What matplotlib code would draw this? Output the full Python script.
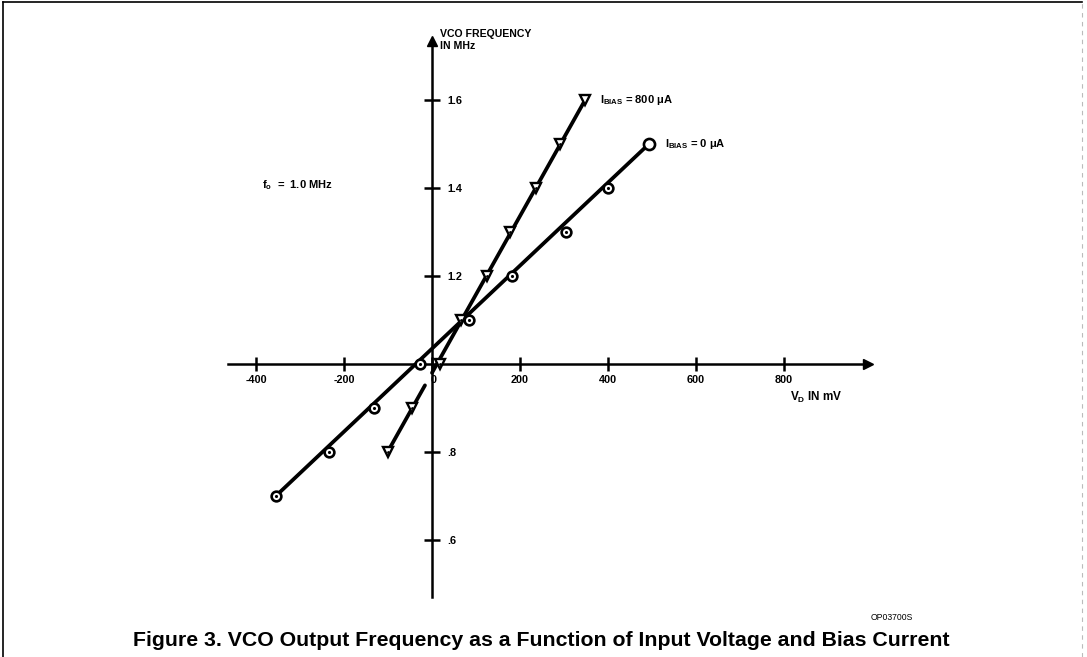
import numpy as np
import matplotlib
matplotlib.use("Agg")
import matplotlib.pyplot as plt
import matplotlib.transforms as mtransforms
from matplotlib.lines import Line2D

plt.rcParams['font.family'] = ['Liberation Sans', 'DejaVu Sans']
plt.rcParams['font.weight'] = 'bold'
plt.rcParams['mathtext.fontset'] = 'custom'
plt.rcParams['mathtext.rm'] = 'Liberation Sans:bold'
plt.rcParams['mathtext.it'] = 'Liberation Sans:bold'
plt.rcParams['mathtext.bf'] = 'Liberation Sans:bold'

# ---- data ----
bias0_vd = [-355, -234, -132, -27, 83, 181, 305, 401, 493]
bias0_f = [0.70, 0.80, 0.90, 1.00, 1.10, 1.20, 1.30, 1.40, 1.50]
bias800_vd = [-101, -46, 18, 65, 124, 177, 236, 291, 348]
bias800_f = [0.80, 0.90, 1.00, 1.10, 1.20, 1.30, 1.40, 1.50, 1.60]

x_ticks = [-400, -200, 0, 200, 400, 600, 800]
x_ticklabels = ['-400', '-200', '0', '200', '400', '600', '800']
y_ticks = [0.6, 0.8, 1.2, 1.4, 1.6]
y_ticklabels = ['.6', '.8', '1.2', '1.4', '1.6']

title = "Figure 3. VCO Output Frequency as a Function of Input Voltage and Bias Current"

W, H = 1087, 657
fig = plt.figure(figsize=(W / 100, H / 100), dpi=100)
ax = fig.add_axes([0, 0, 1, 1])
# pixel mapping: x0 at 432 px, 0.44 px/mV ; f=1.0 at 364 px, 440 px/MHz
ax.set_xlim(-432 / 0.44, (W - 432) / 0.44)
ax.set_ylim(1 - (H - 364) / 440, 1 + 364 / 440)

for s in ['top', 'left']:
    ax.spines[s].set_visible(False)
ax.spines['bottom'].set_position(('data', 1.0))
ax.spines['right'].set_position(('data', 0))
ax.spines['bottom'].set_bounds(-464, 985)
ax.spines['right'].set_bounds(0.47, 1.72)
for s in ['bottom', 'right']:
    ax.spines[s].set_linewidth(1.8)
    ax.spines[s].set_zorder(1)

ax.xaxis.set_ticks_position('bottom')
ax.yaxis.set_ticks_position('right')
ax.set_xticks(x_ticks)
ax.set_xticklabels(x_ticklabels)
ax.set_yticks(y_ticks)
ax.set_yticklabels(y_ticklabels)
ax.tick_params(axis='x', direction='inout', length=10, width=1.8, pad=3, labelsize=7.8)
ax.tick_params(axis='y', direction='inout', length=12, width=1.8, pad=5, labelsize=7.8)

# shift the "0" label slightly right of the vertical axis
for lab in ax.get_xticklabels():
    if lab.get_text() == '0':
        lab.set_transform(lab.get_transform() +
                          mtransforms.ScaledTranslation(2 / 100, 0, fig.dpi_scale_trans))

# arrow heads
ax.plot([992], [1.0], marker='>', ms=7, color='black', clip_on=False, zorder=2)
ax.plot([0], [1.735], marker='^', ms=7, color='black', clip_on=False, zorder=2)

# IBIAS = 0 line
ax.plot([bias0_vd[0], bias0_vd[-1]], [bias0_f[0], bias0_f[-1]], color='black', lw=2.7,
        solid_capstyle='round', zorder=3)
ax.plot(bias0_vd[:-1], bias0_f[:-1], 'o', ms=7, mfc='white', mec='black', mew=1.9, zorder=4)
ax.plot(bias0_vd[:-1], bias0_f[:-1], '.', ms=2.5, color='black', zorder=5)
ax.plot(bias0_vd[-1:], bias0_f[-1:], 'o', ms=8, mfc='white', mec='black', mew=1.9, zorder=4)

# IBIAS = 800 line (with small break near the vertical axis)
x0, x1 = bias800_vd[0], bias800_vd[-1]
y0, y1 = bias800_f[0], bias800_f[-1]
slope = (y1 - y0) / (x1 - x0)
gap_lo, gap_hi = -16, 0
ax.plot([x0, gap_lo], [y0, y0 + slope * (gap_lo - x0)], color='black', lw=2.7,
        solid_capstyle='round', zorder=3)
ax.plot([gap_hi, x1], [y0 + slope * (gap_hi - x0), y1], color='black', lw=2.7,
        solid_capstyle='round', zorder=3)
ax.plot(bias800_vd, bias800_f, 'v', ms=7, mfc='white', mec='black', mew=1.7, zorder=4)
ax.plot(bias800_vd[:-1], bias800_f[:-1], '.', ms=2, color='black', zorder=5)

# texts
ax.text((440 - 432) / 0.44, 1 + (364 - 40) / 440, "VCO FREQUENCY\nIN MHz", fontsize=7.6,
        fontweight='bold', va='center', ha='left', linespacing=1.15)
ax.text((600 - 432) / 0.44, 1.6, r"I$_{\rm BIAS}$ = 800 $\mu$A", fontsize=8,
        va='center', ha='left')
ax.text((665 - 432) / 0.44, 1.5, r"I$_{\rm BIAS}$ = 0 $\mu$A", fontsize=8,
        va='center', ha='left')
ax.text((262 - 432) / 0.44, 1 + (364 - 185) / 440, r"f$_{\rm o}$  =  1.0 MHz", fontsize=8,
        va='center', ha='left')
ax.text((790 - 432) / 0.44, 1 - (397 - 364) / 440, r"V$_{\rm D}$ IN mV", fontsize=8.5,
        va='center', ha='left')

fig.text(892 / W, 1 - 617 / H, "OP03700S", fontsize=6.2, ha='center', va='center',
         fontweight='normal')
fig.text(541 / W, 1 - 640 / H, title, fontsize=15.3, ha='center', va='center',
         fontweight='bold')

# frame
fig.add_artist(Line2D([2.5 / W, 2.5 / W], [0, 1 - 2 / H], color='black', lw=1.2))
fig.add_artist(Line2D([2.5 / W, 1082 / W], [1 - 2 / H, 1 - 2 / H], color='black', lw=1.2))
fig.add_artist(Line2D([1082 / W, 1082 / W], [0, 1 - 2 / H], color='#bbbbbb', lw=0.8,
                      ls=(0, (4, 4))))

fig.savefig("out.png", dpi=100)
